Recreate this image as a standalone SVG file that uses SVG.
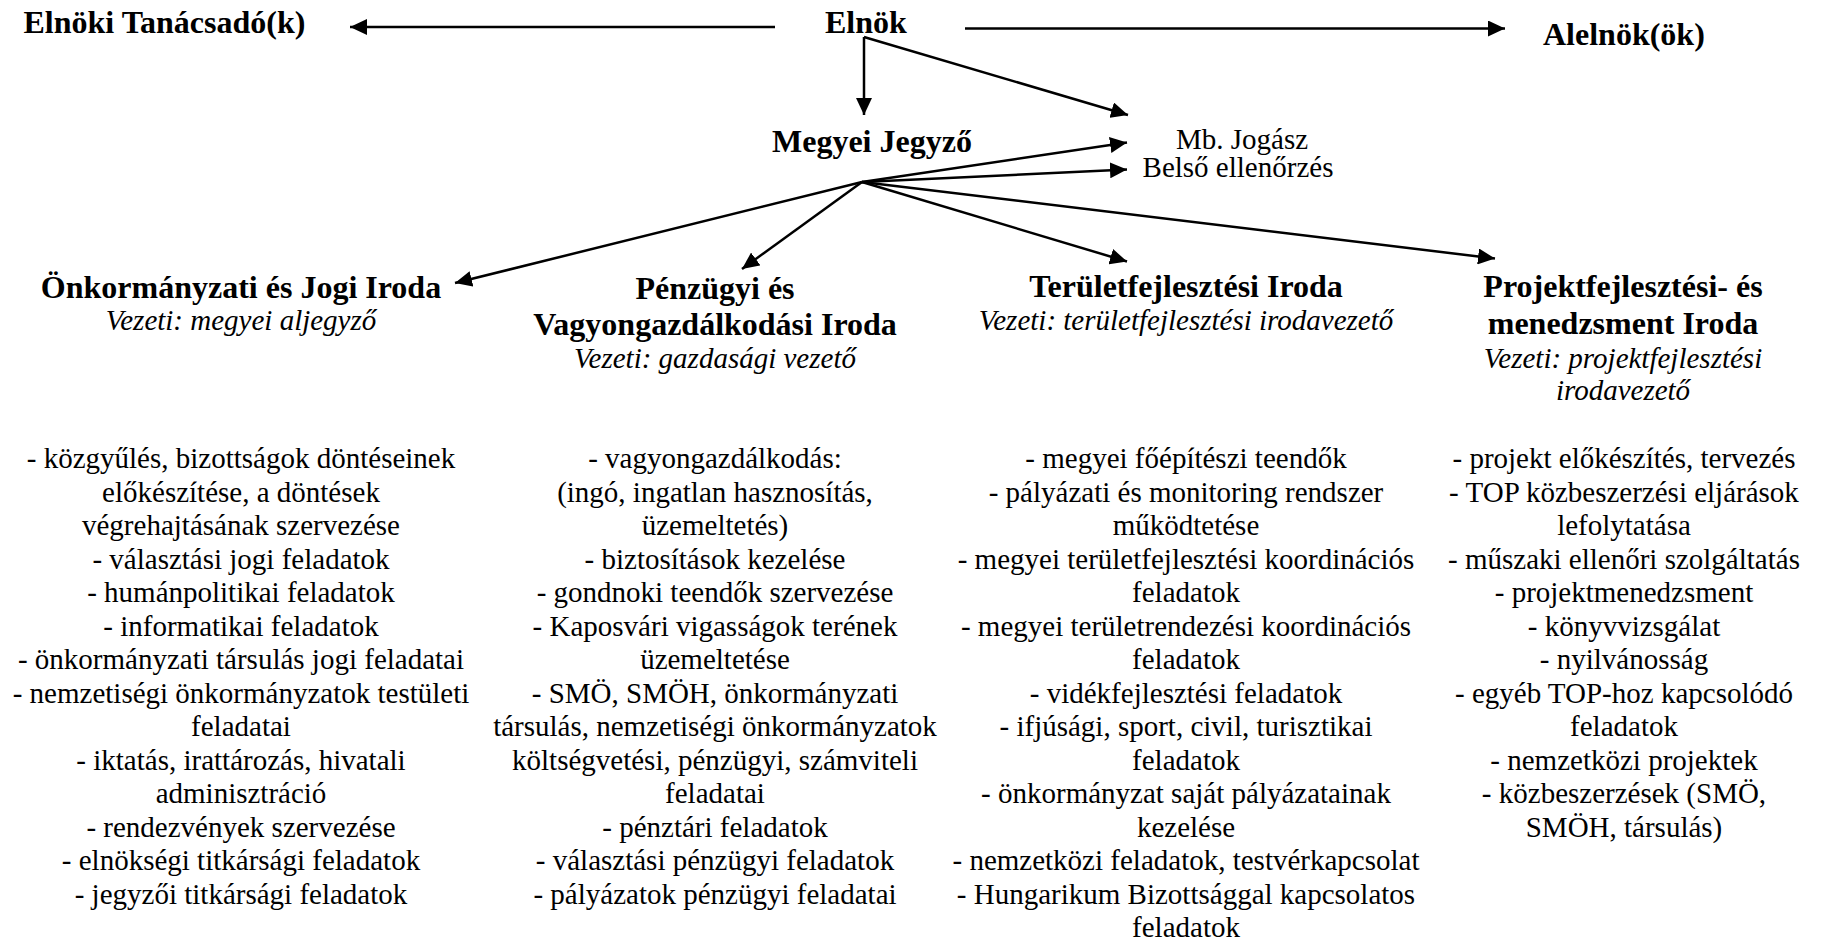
<svg xmlns="http://www.w3.org/2000/svg" width="1823" height="942" viewBox="0 0 1823 942">
<style>
text{font-family:"Liberation Serif","Times New Roman",serif;fill:#000}
.b{font-size:32px;font-weight:bold}
.i{font-size:29px;font-style:italic}
.r{font-size:29px}
.m{text-anchor:middle}
.c{fill:none;stroke:#000;stroke-width:2.5}
</style>
<defs>
<marker id="ah" markerUnits="userSpaceOnUse" markerWidth="18" markerHeight="16" refX="17" refY="8" orient="auto"><path d="M0,0 L17,8 L0,16 z" fill="#000"/></marker>
</defs>
<g id="connectors">
<path class="c" d="M775,27 L350,27" marker-end="url(#ah)"/>
<path class="c" d="M965,28.5 L1505,28.5" marker-end="url(#ah)"/>
<path class="c" d="M864,37 L864,115" marker-end="url(#ah)"/>
<path class="c" d="M864,37 L1128,115" marker-end="url(#ah)"/>
<path class="c" d="M862,182 L1127,142.5" marker-end="url(#ah)"/>
<path class="c" d="M862,182 L1127,169.5" marker-end="url(#ah)"/>
<path class="c" d="M862,182 L455,283" marker-end="url(#ah)"/>
<path class="c" d="M862,182 L742,269" marker-end="url(#ah)"/>
<path class="c" d="M862,182 L1127,261.5" marker-end="url(#ah)"/>
<path class="c" d="M862,182 L1495,258.5" marker-end="url(#ah)"/>
</g>
<g id="tanacsado"><text class="b" x="23.5" y="33">Elnöki Tanácsadó(k)</text></g>
<g id="elnok"><text class="b" x="825" y="32.5">Elnök</text></g>
<g id="alelnok"><text class="b" x="1543" y="45">Alelnök(ök)</text></g>
<g id="jegyzo"><text class="b" x="772" y="151.5">Megyei Jegyző</text></g>
<g id="jogasz"><text class="r m" x="1242" y="148.5">Mb. Jogász</text></g>
<g id="ellenorzes"><text class="r m" x="1238" y="177">Belső ellenőrzés</text></g>
<g id="onkormanyzati">
<text class="b m" x="241" y="298">Önkormányzati és Jogi Iroda</text>
<text class="i m" x="241" y="330">Vezeti: megyei aljegyző</text>
<text class="r m" x="241" y="468"><tspan x="241">- közgyűlés, bizottságok döntéseinek</tspan><tspan x="241" dy="33.5">előkészítése, a döntések</tspan><tspan x="241" dy="33.5">végrehajtásának szervezése</tspan><tspan x="241" dy="33.5">- választási jogi feladatok</tspan><tspan x="241" dy="33.5">- humánpolitikai feladatok</tspan><tspan x="241" dy="33.5">- informatikai feladatok</tspan><tspan x="241" dy="33.5">- önkormányzati társulás jogi feladatai</tspan><tspan x="241" dy="33.5">- nemzetiségi önkormányzatok testületi</tspan><tspan x="241" dy="33.5">feladatai</tspan><tspan x="241" dy="33.5">- iktatás, irattározás, hivatali</tspan><tspan x="241" dy="33.5">adminisztráció</tspan><tspan x="241" dy="33.5">- rendezvények szervezése</tspan><tspan x="241" dy="33.5">- elnökségi titkársági feladatok</tspan><tspan x="241" dy="33.5">- jegyzői titkársági feladatok</tspan></text>
</g>
<g id="penzugyi">
<text class="b m" x="715" y="299">Pénzügyi és</text>
<text class="b m" x="715" y="335">Vagyongazdálkodási Iroda</text>
<text class="i m" x="715" y="368">Vezeti: gazdasági vezető</text>
<text class="r m" x="715" y="468"><tspan x="715">- vagyongazdálkodás:</tspan><tspan x="715" dy="33.5">(ingó, ingatlan hasznosítás,</tspan><tspan x="715" dy="33.5">üzemeltetés)</tspan><tspan x="715" dy="33.5">- biztosítások kezelése</tspan><tspan x="715" dy="33.5">- gondnoki teendők szervezése</tspan><tspan x="715" dy="33.5">- Kaposvári vigasságok terének</tspan><tspan x="715" dy="33.5">üzemeltetése</tspan><tspan x="715" dy="33.5">- SMÖ, SMÖH, önkormányzati</tspan><tspan x="715" dy="33.5">társulás, nemzetiségi önkormányzatok</tspan><tspan x="715" dy="33.5">költségvetési, pénzügyi, számviteli</tspan><tspan x="715" dy="33.5">feladatai</tspan><tspan x="715" dy="33.5">- pénztári feladatok</tspan><tspan x="715" dy="33.5">- választási pénzügyi feladatok</tspan><tspan x="715" dy="33.5">- pályázatok pénzügyi feladatai</tspan></text>
</g>
<g id="teruletfejlesztesi">
<text class="b m" x="1186" y="297">Területfejlesztési Iroda</text>
<text class="i m" x="1186" y="330">Vezeti: területfejlesztési irodavezető</text>
<text class="r m" x="1186" y="468"><tspan x="1186">- megyei főépítészi teendők</tspan><tspan x="1186" dy="33.5">- pályázati és monitoring rendszer</tspan><tspan x="1186" dy="33.5">működtetése</tspan><tspan x="1186" dy="33.5">- megyei területfejlesztési koordinációs</tspan><tspan x="1186" dy="33.5">feladatok</tspan><tspan x="1186" dy="33.5">- megyei területrendezési koordinációs</tspan><tspan x="1186" dy="33.5">feladatok</tspan><tspan x="1186" dy="33.5">- vidékfejlesztési feladatok</tspan><tspan x="1186" dy="33.5">- ifjúsági, sport, civil, turisztikai</tspan><tspan x="1186" dy="33.5">feladatok</tspan><tspan x="1186" dy="33.5">- önkormányzat saját pályázatainak</tspan><tspan x="1186" dy="33.5">kezelése</tspan><tspan x="1186" dy="33.5">- nemzetközi feladatok, testvérkapcsolat</tspan><tspan x="1186" dy="33.5">- Hungarikum Bizottsággal kapcsolatos</tspan><tspan x="1186" dy="33.5">feladatok</tspan></text>
</g>
<g id="projektfejlesztesi">
<text class="b m" x="1623" y="297">Projektfejlesztési- és</text>
<text class="b m" x="1623" y="333.5">menedzsment Iroda</text>
<text class="i m" x="1623" y="368">Vezeti: projektfejlesztési</text>
<text class="i m" x="1623" y="400">irodavezető</text>
<text class="r m" x="1624" y="468"><tspan x="1624">- projekt előkészítés, tervezés</tspan><tspan x="1624" dy="33.5">- TOP közbeszerzési eljárások</tspan><tspan x="1624" dy="33.5">lefolytatása</tspan><tspan x="1624" dy="33.5">- műszaki ellenőri szolgáltatás</tspan><tspan x="1624" dy="33.5">- projektmenedzsment</tspan><tspan x="1624" dy="33.5">- könyvvizsgálat</tspan><tspan x="1624" dy="33.5">- nyilvánosság</tspan><tspan x="1624" dy="33.5">- egyéb TOP-hoz kapcsolódó</tspan><tspan x="1624" dy="33.5">feladatok</tspan><tspan x="1624" dy="33.5">- nemzetközi projektek</tspan><tspan x="1624" dy="33.5">- közbeszerzések (SMÖ,</tspan><tspan x="1624" dy="33.5">SMÖH, társulás)</tspan></text>
</g>
</svg>
